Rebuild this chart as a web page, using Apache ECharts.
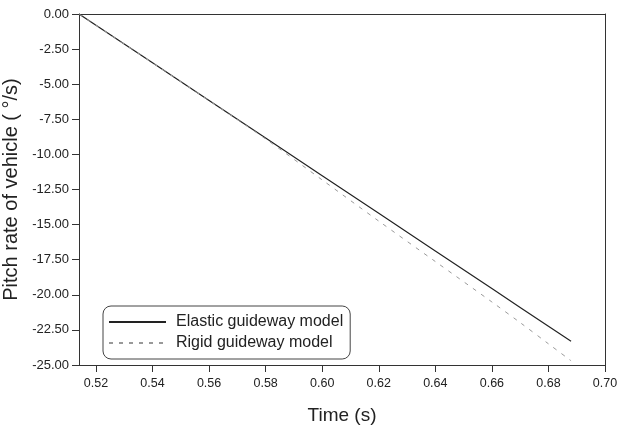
<!DOCTYPE html>
<html>
<head>
<meta charset="utf-8">
<script src="https://cdn.jsdelivr.net/npm/echarts@6/dist/echarts.min.js"></script>
<style>html,body{margin:0;padding:0;background:#fff}#c{width:618px;height:427px}</style>
</head>
<body>
<div id="c"></div>
<script>
const timeElastic = [0.514, 0.54, 0.56, 0.58, 0.60, 0.62, 0.64, 0.66, 0.67, 0.68, 0.688];
const elastic = [0, -3.48, -6.16, -8.84, -11.52, -14.20, -16.88, -19.56, -20.90, -22.24, -23.30];
const timeRigid = [0.514, 0.54, 0.56, 0.58, 0.60, 0.62, 0.64, 0.66, 0.67, 0.68, 0.688];
const rigid = [0, -3.48, -6.17, -8.90, -11.82, -14.75, -17.63, -20.51, -21.98, -23.49, -24.70];
const xTicks = [0.52, 0.54, 0.56, 0.58, 0.60, 0.62, 0.64, 0.66, 0.68, 0.70];
const seriesNames = ['Elastic guideway model', 'Rigid guideway model'];

const font = 'Liberation Sans, Arial, sans-serif';
const chart = echarts.init(document.getElementById('c'));
chart.setOption({
  animation: false,
  backgroundColor: '#fff',
  grid: { left: 79, right: 13, top: 14, bottom: 62, containLabel: false, outerBoundsMode: 'none' },
  xAxis: [{
    type: 'value', min: 0.514, max: 0.70,
    name: 'Time (s)', nameLocation: 'middle', nameGap: 41,
    nameTextStyle: { fontFamily: font, fontSize: 19, color: '#222' },
    axisLine: { onZero: false, lineStyle: { color: '#333', width: 1 } },
    axisTick: { show: true, length: 7, lineStyle: { color: '#333' }, customValues: xTicks },
    axisLabel: { margin: 12, fontFamily: font, fontSize: 12.5, color: '#222', customValues: xTicks,
      formatter: v => v.toFixed(2) },
    splitLine: { show: false }
  }, {
    type: 'value', min: 0.514, max: 0.70, position: 'top',
    axisLine: { show: true, onZero: false, lineStyle: { color: '#333', width: 1 } },
    axisTick: { show: false }, axisLabel: { show: false }, splitLine: { show: false }
  }],
  yAxis: [{
    type: 'value', min: -25, max: 0, interval: 2.5,
    name: 'Pitch rate of vehicle ( °/s)', nameLocation: 'middle', nameGap: 51,
    nameTextStyle: { fontFamily: font, fontSize: 20, color: '#222' },
    axisLine: { show: true, onZero: false, lineStyle: { color: '#333', width: 1 } },
    axisTick: { show: true, length: 7, lineStyle: { color: '#333' } },
    axisLabel: { margin: 10, fontFamily: font, fontSize: 13, color: '#222', formatter: v => v.toFixed(2) },
    splitLine: { show: false }
  }, {
    type: 'value', min: -25, max: 0, interval: 2.5, position: 'right',
    axisLine: { show: true, onZero: false, lineStyle: { color: '#333', width: 1 } },
    axisTick: { show: false }, axisLabel: { show: false }, splitLine: { show: false }
  }],
  legend: {
    orient: 'vertical', left: 103, top: 306,
    backgroundColor: '#fff', borderColor: '#444', borderWidth: 1, borderRadius: 8,
    padding: [8, 7, 8, 5], itemGap: 5, itemWidth: 57, itemHeight: 16,
    itemStyle: { opacity: 0 },
    textStyle: { fontFamily: font, fontSize: 16, color: '#222', padding: [0, 0, 0, 5] },
    data: seriesNames
  },
  series: [
    { name: seriesNames[0], type: 'line', symbol: 'none', data: timeElastic.map((t, i) => [t, elastic[i]]),
      lineStyle: { color: '#222', width: 1.2 }, itemStyle: { color: '#222' } },
    { name: seriesNames[1], type: 'line', symbol: 'none', smooth: 0.3, data: timeRigid.map((t, i) => [t, rigid[i]]),
      lineStyle: { color: '#999', width: 1, type: [4, 6] }, itemStyle: { color: '#999' } }
  ]
});
</script>
</body>
</html>
